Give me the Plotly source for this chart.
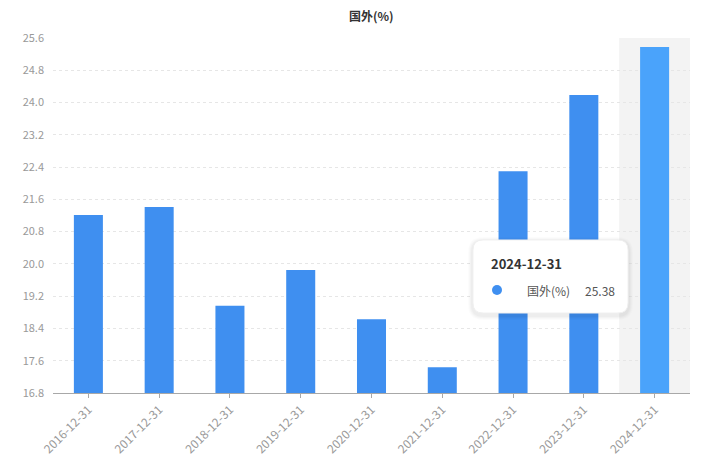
import plotly.graph_objects as go

categories = ["2016-12-31", "2017-12-31", "2018-12-31", "2019-12-31", "2020-12-31",
              "2021-12-31", "2022-12-31", "2023-12-31", "2024-12-31"]
values = [21.21, 21.41, 18.96, 19.85, 18.63, 17.44, 22.30, 24.19, 25.38]
y_ticks = [16.8, 17.6, 18.4, 19.2, 20.0, 20.8, 21.6, 22.4, 23.2, 24.0, 24.8, 25.6]
series_name = "国外(%)"
highlight_index = 8

OFF = 8  # page body margin
W, H = 711, 447
# plot area in window pixels: x 53..690, y 38..393
L, T = 53 - OFF, 38 - OFF
R, B = W - (690 - OFF), H - (393 - OFF)
pw, ph = W - L - R, H - T - B

def px(x):
    return (x - OFF - L) / pw

def py(y):
    return (H - B - (y - OFF)) / ph

FONT = "Noto Sans CJK SC, Noto Sans, sans-serif"
colors = ["#3f8ff0"] * len(values)
colors[highlight_index] = "#4aa3fb"

fig = go.Figure()
fig.add_trace(go.Bar(x=categories, y=values, marker=dict(color=colors, line=dict(width=0)),
                     width=0.41, name=series_name))

shapes = []
shapes.append(dict(type="rect", xref="x", yref="paper", x0=highlight_index - 0.5,
                   x1=highlight_index + 0.5, y0=0, y1=1, fillcolor="#f3f3f3",
                   line=dict(width=0), layer="below"))

def rrect(x0, y0, x1, y1, r):
    def P(x, y):
        return f"{px(x):.5f},{py(y):.5f}"
    return (f"M {P(x0 + r, y0)} L {P(x1 - r, y0)} Q {P(x1, y0)} {P(x1, y0 + r)} "
            f"L {P(x1, y1 - r)} Q {P(x1, y1)} {P(x1 - r, y1)} L {P(x0 + r, y1)} "
            f"Q {P(x0, y1)} {P(x0, y1 - r)} L {P(x0, y0 + r)} Q {P(x0, y0)} {P(x0 + r, y0)} Z")

for i, op in enumerate([0.012, 0.016, 0.02, 0.025]):
    d = 5 - i
    shapes.append(dict(type="path", xref="paper", yref="paper",
                       path=rrect(473 - d, 240 - d + 2, 628 + d, 313 + d + 2, 10 + d),
                       fillcolor=f"rgba(0,0,0,{op})", line=dict(width=0), layer="above"))
shapes.append(dict(type="path", xref="paper", yref="paper", path=rrect(473, 240, 628, 313, 10),
                   fillcolor="white", line=dict(color="#f0f0f0", width=1), layer="above"))
shapes.append(dict(type="circle", xref="paper", yref="paper",
                   x0=px(492), x1=px(502), y0=py(295), y1=py(285),
                   fillcolor="#3f8ff0", line=dict(width=0), layer="above"))

annotations = [
    dict(text="<b>" + series_name + "</b>", xref="paper", yref="paper", x=0.5, y=py(15),
         showarrow=False, font=dict(family=FONT, size=12, color="#333333"),
         xanchor="center", yanchor="middle"),
    dict(text="<b>" + categories[highlight_index] + "</b>", xref="paper", yref="paper",
         x=px(489), y=py(263), showarrow=False, xanchor="left", yanchor="middle",
         font=dict(family=FONT, size=13, color="#333333")),
    dict(text=series_name, xref="paper", yref="paper", x=px(525), y=py(290), showarrow=False,
         xanchor="left", yanchor="middle", font=dict(family=FONT, size=12, color="#555555")),
    dict(text=f"{values[highlight_index]:.2f}", xref="paper", yref="paper", x=px(617), y=py(290),
         showarrow=False, xanchor="right", yanchor="middle",
         font=dict(family=FONT, size=12, color="#555555")),
]

fig.update_layout(
    width=W, height=H, margin=dict(l=L, r=R, t=T, b=B, autoexpand=False),
    paper_bgcolor="white", plot_bgcolor="white", showlegend=False,
    shapes=shapes, annotations=annotations, bargap=0.59,
    font=dict(family=FONT, size=11, color="#999999"),
)
fig.update_xaxes(type="category", tickangle=-45, showline=True, linecolor="#a8a8a8", linewidth=1,
                 ticks="outside", ticklen=4, tickcolor="#a8a8a8", showgrid=False, automargin=False,
                 tickfont=dict(family=FONT, size=12, color="#999999"))
fig.update_yaxes(range=[16.8, 25.6], tickvals=y_ticks, ticktext=[f"{v:.1f}" for v in y_ticks],
                 showgrid=True, gridcolor="#e6e6e6", griddash="3px,3px", gridwidth=1,
                 zeroline=False, showline=False, ticks="", ticklabelstandoff=8, automargin=False,
                 tickfont=dict(family=FONT, size=11, color="#999999"))

fig.write_html("out.html")
